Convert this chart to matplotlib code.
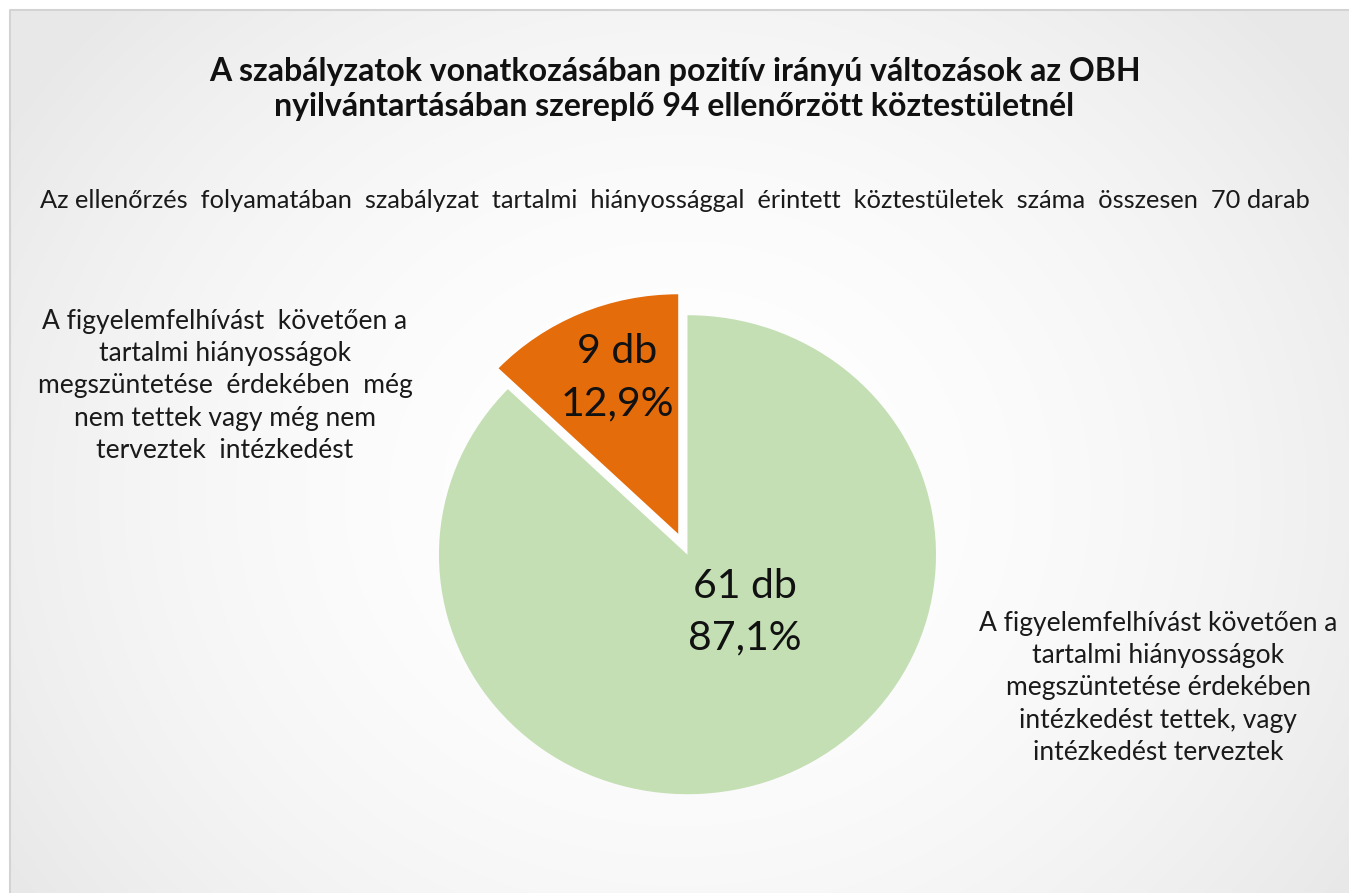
#------------------------------------------------imports---------------------------------------------------------------
import numpy as np
import matplotlib
matplotlib.use("Agg")
import matplotlib.pyplot as plt

#-------------------------------------------------data-----------------------------------------------------------------
categories = [
    "A figyelemfelhívást  követően a\ntartalmi hiányosságok\nmegszüntetése  érdekében  még\nnem tettek vagy még nem\nterveztek  intézkedést",
    "A figyelemfelhívást követően a\ntartalmi hiányosságok\nmegszüntetése érdekében\nintézkedést tettek, vagy\nintézkedést terveztek",
]
counts = [9, 61]
colors = ["#E46C0A", "#C4DFB4"]
explode = [0.085, 0.01]

title = ("A szabályzatok vonatkozásában pozitív irányú változások az OBH\n"
         "nyilvántartásában szereplő 94 ellenőrzött köztestületnél")
subtitle = "Az ellenőrzés  folyamatában  szabályzat  tartalmi  hiányossággal  érintett  köztestületek  száma  összesen  {} darab"

#-------------------------------------------------settings-------------------------------------------------------------
plt.rcParams['font.family'] = ['Lato', 'DejaVu Sans']
W, H = 1349, 893
fig = plt.figure(figsize=(W / 100, H / 100), dpi=100)

#-------------------------------------------------background-----------------------------------------------------------
bg = fig.add_axes([0, 0, 1, 1])
bg.set_xlim(0, W)
bg.set_ylim(H, 0)
bg.axis("off")
yy, xx = np.mgrid[0:H, 0:W]
d = np.sqrt(((xx - W / 2) / (W * 0.6)) ** 2 + ((yy - H * 0.55) / (H * 0.8)) ** 2)
shade = 1.0 - 0.09 * np.clip(d, 0, 1) ** 2
img = np.dstack([shade, shade, shade])
bg.imshow(img, extent=[10, W, H, 10], zorder=0, aspect="auto")
bg.plot([10, 10, W], [H, 10, 10], color="#D3D3D3", lw=1.5, zorder=1)

#-------------------------------------------------texts----------------------------------------------------------------
total = sum(counts)
fig.text(0.5, 1 - 89 / H, title, ha="center", va="center", fontsize=23, fontweight="bold",
         color="#111111", linespacing=1.26)
fig.text(0.5, 1 - 200 / H, subtitle.format(total), ha="center", va="center", fontsize=18.3,
         color="#1a1a1a")
fig.text(225 / W, 1 - 386 / H, categories[0], ha="center", va="center", fontsize=19,
         color="#1a1a1a", linespacing=1.36)
fig.text(1158 / W, 1 - 688 / H, categories[1], ha="center", va="center", fontsize=19,
         color="#1a1a1a", linespacing=1.36)

#-------------------------------------------------pie------------------------------------------------------------------
cx, cy, rx, ry = 686.5, 552.5, 248.5, 239.5
lim = 1.2
aw, ah = 2 * lim * rx / W, 2 * lim * ry / H
ax = fig.add_axes([cx / W - aw / 2, 1 - cy / H - ah / 2, aw, ah])
wedges, _ = ax.pie(counts, colors=colors, explode=explode, startangle=90, counterclock=True,
                   wedgeprops=dict(linewidth=0))
ax.set_xlim(-lim, lim)
ax.set_ylim(-lim, lim)
ax.set_aspect("auto")
ax.axis("off")

label_pos = [(-0.28, 0.73), (0.235, -0.25)]
for n, (lx, ly) in zip(counts, label_pos):
    pct = "{:.1f}%".format(100 * n / total).replace(".", ",")
    ax.text(lx, ly, "{} db\n{}".format(n, pct), ha="center", va="center", fontsize=29.5,
            color="#111111", linespacing=1.5)

#----------------------------------------------------saving------------------------------------------------------------
fig.savefig("out.png", dpi=100)
